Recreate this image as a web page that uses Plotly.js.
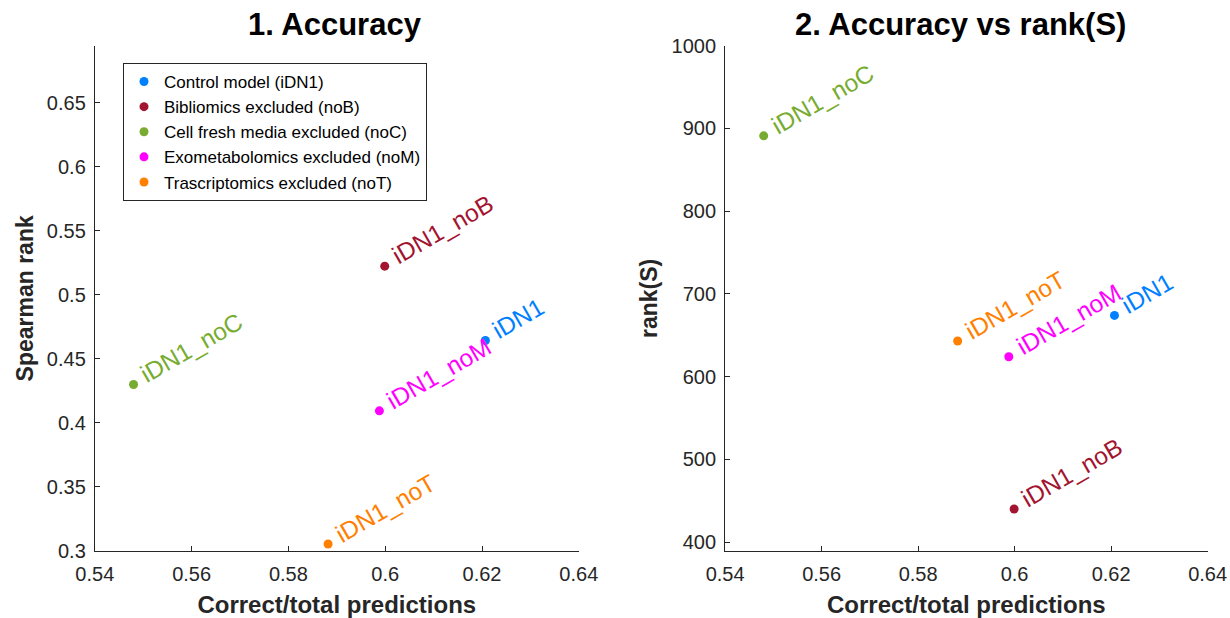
<!DOCTYPE html>
<html>
<head>
<meta charset="utf-8">
<script src="https://cdn.plot.ly/plotly-3.0.1.min.js"></script>
<style>html,body{margin:0;padding:0;background:#fff;}#chart{width:1230px;height:618px;}</style>
</head>
<body>
<div id="chart"></div>
<script>
// ---- data ----
const pointLabels = ['iDN1', 'iDN1_noB', 'iDN1_noC', 'iDN1_noM', 'iDN1_noT'];
const legendNames = ['Control model (iDN1)', 'Bibliomics excluded (noB)', 'Cell fresh media excluded (noC)', 'Exometabolomics excluded (noM)', 'Trascriptomics excluded (noT)'];
const accuracy = [0.6207, 0.5999, 0.5480, 0.5988, 0.5882];
const spearman = [0.4643, 0.5224, 0.4300, 0.4094, 0.3055];
const rankS = [674, 440, 891, 624, 643];
const xTickVals = [0.54, 0.56, 0.58, 0.60, 0.62, 0.64];
const xTickText = ['0.54', '0.56', '0.58', '0.6', '0.62', '0.64'];
const y1TickVals = [0.30, 0.35, 0.40, 0.45, 0.50, 0.55, 0.60, 0.65];
const y1TickText = ['0.3', '0.35', '0.4', '0.45', '0.5', '0.55', '0.6', '0.65'];
const y2TickVals = [400, 500, 600, 700, 800, 900, 1000];
const y2TickText = ['400', '500', '600', '700', '800', '900', '1000'];
const colors = ['#0080FF', '#A2142F', '#77AC30', '#FF00FF', '#FF8000'];

// ---- styles ----
const FONT = 'Liberation Sans, Arial, Helvetica, sans-serif';
const INK = '#262626';
const W = 1230, H = 618;
const px = v => v / W, py = v => 1 - v / H;

const traces = [];
for (let i = 0; i < pointLabels.length; i++) {
  traces.push({
    type: 'scatter', mode: 'markers', name: legendNames[i], legendgroup: 'g' + i,
    x: [accuracy[i]], y: [spearman[i]], xaxis: 'x', yaxis: 'y',
    marker: {color: colors[i], size: 9}, hoverinfo: 'x+y'
  });
}
for (let i = 0; i < pointLabels.length; i++) {
  traces.push({
    type: 'scatter', mode: 'markers', name: legendNames[i], legendgroup: 'g' + i, showlegend: false,
    x: [accuracy[i]], y: [rankS[i]], xaxis: 'x2', yaxis: 'y2',
    marker: {color: colors[i], size: 9}, hoverinfo: 'x+y'
  });
}

const annotations = [];
const labelStyle = (i) => ({
  showarrow: false, textangle: -30, xanchor: 'left', yanchor: 'bottom',
  xshift: 0, yshift: -6,
  font: {family: FONT, size: 24.5, color: colors[i]}
});
for (let i = 0; i < pointLabels.length; i++) {
  annotations.push(Object.assign({xref: 'x', yref: 'y', x: accuracy[i], y: spearman[i], text: pointLabels[i]}, labelStyle(i)));
  annotations.push(Object.assign({xref: 'x2', yref: 'y2', x: accuracy[i], y: rankS[i], text: pointLabels[i]}, labelStyle(i)));
}
annotations.push({xref: 'paper', yref: 'paper', x: px(335), y: py(5), xanchor: 'center', yanchor: 'top',
  text: '1. Accuracy', showarrow: false, font: {family: FONT, size: 31, color: '#000', weight: 'bold'}});
annotations.push({xref: 'paper', yref: 'paper', x: px(960), y: py(5), xanchor: 'center', yanchor: 'top',
  text: '2. Accuracy vs rank(S)', showarrow: false, font: {family: FONT, size: 31, color: '#000', weight: 'bold'}});

const axisCommon = {
  showline: true, linecolor: INK, linewidth: 1, ticks: 'inside', ticklen: 5, tickwidth: 1, tickcolor: INK,
  showgrid: false, zeroline: false, tickmode: 'array', ticklabeloverflow: 'allow',
  tickfont: {family: FONT, size: 20, color: INK}
};
const xTitle = {text: 'Correct/total predictions', font: {family: FONT, size: 24, color: INK, weight: 'bold'}, standoff: 12};

const layout = {
  width: W, height: H, margin: {l: 0, r: 0, t: 0, b: 0},
  paper_bgcolor: '#fff', plot_bgcolor: '#fff',
  showlegend: true,
  legend: {x: px(123), y: py(63), xanchor: 'left', yanchor: 'top', bgcolor: '#fff', bordercolor: INK, borderwidth: 1,
    tracegroupgap: 0, font: {family: FONT, size: 17, color: '#000'}, itemclick: false},
  xaxis: Object.assign({}, axisCommon, {domain: [px(94.8), px(578.8)], range: [0.54, 0.64], anchor: 'y',
    tickvals: xTickVals, ticktext: xTickText, ticklabelstandoff: 5, title: xTitle}),
  yaxis: Object.assign({}, axisCommon, {domain: [py(551), py(45.7)], range: [0.3, 0.6945], anchor: 'x',
    tickvals: y1TickVals, ticktext: y1TickText, ticklabelstandoff: 4,
    title: {text: 'Spearman rank', font: {family: FONT, size: 23, color: INK, weight: 'bold'}, standoff: 6}}),
  xaxis2: Object.assign({}, axisCommon, {domain: [px(725.1), px(1207.6)], range: [0.54, 0.64], anchor: 'y2',
    tickvals: xTickVals, ticktext: xTickText, ticklabelstandoff: 5, title: xTitle}),
  yaxis2: Object.assign({}, axisCommon, {domain: [py(551), py(45.7)], range: [389.2, 1000], anchor: 'x2',
    tickvals: y2TickVals, ticktext: y2TickText, ticklabelstandoff: 4,
    title: {text: 'rank(S)', font: {family: FONT, size: 23, color: INK, weight: 'bold'}, standoff: 7}}),
  annotations: annotations
};

Plotly.newPlot('chart', traces, layout, {displayModeBar: false});
</script>
</body>
</html>
